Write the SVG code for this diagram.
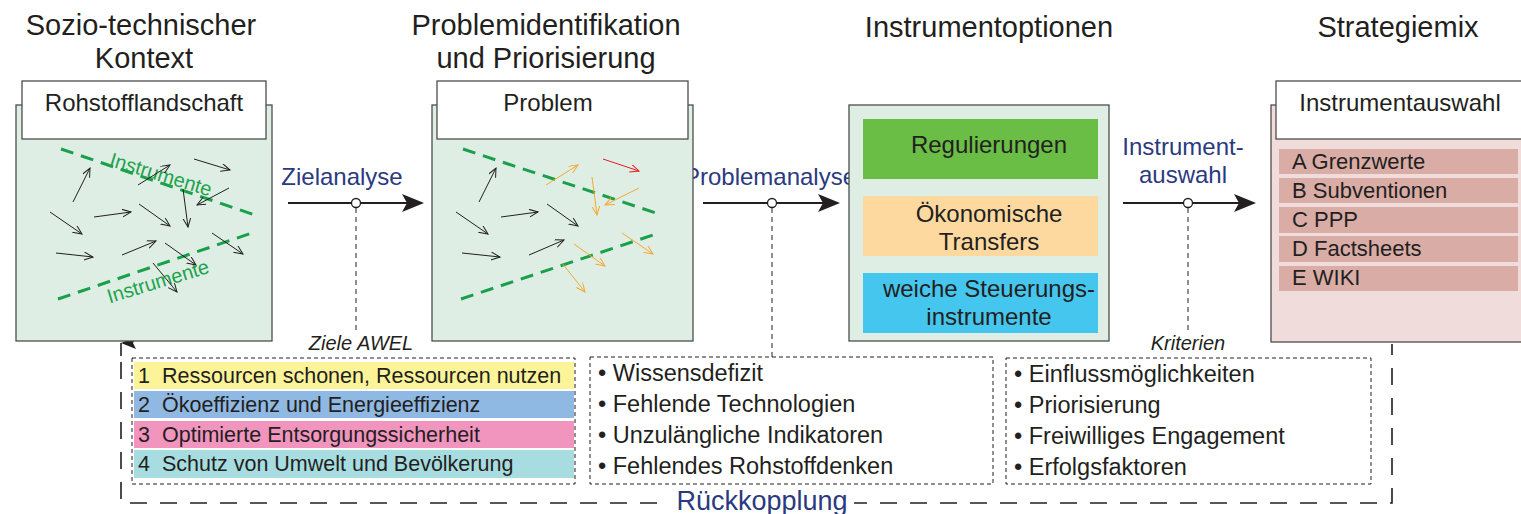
<svg xmlns="http://www.w3.org/2000/svg" width="1521" height="514" viewBox="0 0 1521 514">
<defs>
<style>
text{font-family:"Liberation Sans",Arial,sans-serif;fill:#231f20}
.title{font-size:29px;text-anchor:middle}
.lbl{font-size:24px;text-anchor:middle}
.nav{fill:#2b3a80;font-size:24px;text-anchor:middle}
.it{font-style:italic;font-size:20px;text-anchor:middle}
.li{font-size:21.5px}
.bl{font-size:23.5px}
.si{font-size:22px}
.panel{fill:#deeee4;stroke:#4d4d4d;stroke-width:1.3}
.wbox{fill:#fff;stroke:#4d4d4d;stroke-width:1.3}
.gd{stroke:#1a9f4a;stroke-width:3;stroke-dasharray:13 8;fill:none}
.ka{stroke:#231f20;stroke-width:1;fill:none;marker-end:url(#mk)}
.oa{stroke:#f5a833;stroke-width:1;fill:none;marker-end:url(#mo)}
.ra{stroke:#ec1c24;stroke-width:1;fill:none;marker-end:url(#mr)}
.main{stroke:#231f20;stroke-width:2.2;fill:none;marker-end:url(#big)}
.vd{stroke:#231f20;stroke-width:1;stroke-dasharray:5 4;fill:none}
.ld{stroke:#231f20;stroke-width:1;stroke-dasharray:4 3;fill:none}
.fb{stroke:#231f20;stroke-width:1.6;stroke-dasharray:17 13;fill:none}
.ins{fill:#1fa34e;font-size:20px;text-anchor:middle}
</style>
<marker id="mk" markerWidth="12" markerHeight="10" refX="9" refY="4" orient="auto" markerUnits="userSpaceOnUse"><path d="M0,0 L9,4 L0,8" fill="none" stroke="#231f20" stroke-width="1"/></marker>
<marker id="mo" markerWidth="12" markerHeight="10" refX="9" refY="4" orient="auto" markerUnits="userSpaceOnUse"><path d="M0,0 L9,4 L0,8" fill="none" stroke="#f5a833" stroke-width="1"/></marker>
<marker id="mr" markerWidth="12" markerHeight="10" refX="9" refY="4" orient="auto" markerUnits="userSpaceOnUse"><path d="M0,0 L9,4 L0,8" fill="none" stroke="#ec1c24" stroke-width="1"/></marker>
<marker id="big" markerWidth="26" markerHeight="20" refX="20" refY="9" orient="auto" markerUnits="userSpaceOnUse"><path d="M0,0 L22,9 L0,18 L5,9 Z" fill="#231f20"/></marker>
<marker id="up" markerWidth="14" markerHeight="18" refX="6" refY="0" orient="auto-start-reverse" markerUnits="userSpaceOnUse"><path d="M6,0 L12,15 L6,12 L0,15 Z" fill="#231f20"/></marker>
</defs>

<rect width="1521" height="514" fill="#fff"/>

<g id="titles">
<text class="title" x="141" y="35">Sozio-technischer</text>
<text class="title" x="144" y="68">Kontext</text>
<text class="title" x="546" y="35">Problemidentifikation</text>
<text class="title" x="546" y="68">und Priorisierung</text>
<text class="title" x="989" y="37">Instrumentoptionen</text>
<text class="title" x="1398" y="37">Strategiemix</text>
</g>

<g id="connectors">
<path class="fb" d="M121,362 V503 H1392 V344"/>
<path d="M121,356 V343" stroke="#231f20" stroke-width="1.6" marker-end="url(#up)"/>
<rect x="670" y="486" width="184" height="28" fill="#fff"/>
<text x="762" y="510" style="fill:#2b3a80;font-size:27px;text-anchor:middle">Rückkopplung</text>

<line class="main" x1="288" y1="203" x2="422" y2="203"/>
<line class="vd" x1="356" y1="208" x2="356" y2="334"/>
<circle cx="356" cy="203" r="4.5" fill="#fff" stroke="#231f20" stroke-width="1.3"/>
<text class="nav" x="342" y="185">Zielanalyse</text>
<text class="it" x="361" y="350">Ziele AWEL</text>

<line class="main" x1="703" y1="203" x2="838" y2="203"/>
<line class="vd" x1="772" y1="208" x2="772" y2="357"/>
<circle cx="772" cy="203" r="4.5" fill="#fff" stroke="#231f20" stroke-width="1.3"/>
<rect x="683" y="162" width="174" height="30" fill="#fff"/>
<text class="nav" x="770" y="185">Problemanalyse</text>

<line class="main" x1="1123" y1="203" x2="1254" y2="203"/>
<line class="vd" x1="1188" y1="208" x2="1188" y2="334"/>
<circle cx="1188" cy="203" r="4.5" fill="#fff" stroke="#231f20" stroke-width="1.3"/>
<text class="nav" x="1183" y="155">Instrument-</text>
<text class="nav" x="1183" y="183">auswahl</text>
<text class="it" x="1188" y="350">Kriterien</text>
</g>

<g id="panel1">
<rect class="panel" x="16" y="105" width="256" height="236"/>
<rect class="wbox" x="22" y="81" width="244" height="58"/>
<text class="lbl" x="144" y="111">Rohstofflandschaft</text>
<line class="gd" x1="61" y1="149" x2="255" y2="215"/>
<line class="gd" x1="58" y1="299" x2="252" y2="233"/>
<text class="ins" transform="translate(159,181) rotate(17)">Instrumente</text>
<text class="ins" transform="translate(160,288) rotate(-17)">Instrumente</text>
<line class="ka" x1="73" y1="202" x2="90" y2="168"/>
<line class="ka" x1="50" y1="212" x2="82" y2="234"/>
<line class="ka" x1="94" y1="217" x2="131" y2="212"/>
<line class="ka" x1="56" y1="253" x2="93" y2="257"/>
<line class="ka" x1="122" y1="255" x2="156" y2="241"/>
<line class="ka" x1="138" y1="185" x2="170" y2="165"/>
<line class="ka" x1="194" y1="159" x2="230" y2="170"/>
<line class="ka" x1="229" y1="188" x2="197" y2="205"/>
<line class="ka" x1="183" y1="189" x2="188" y2="227"/>
<line class="ka" x1="139" y1="204" x2="170" y2="226"/>
<line class="ka" x1="212" y1="233" x2="243" y2="254"/>
<line class="ka" x1="165" y1="243" x2="196" y2="265"/>
<line class="ka" x1="153" y1="263" x2="177" y2="292"/>
</g>

<g id="panel2">
<rect class="panel" x="432" y="105" width="261" height="236"/>
<rect class="wbox" x="437" y="81" width="251" height="58"/>
<text class="lbl" x="548" y="111">Problem</text>
<line class="gd" x1="463" y1="149" x2="662" y2="215"/>
<line class="gd" x1="461" y1="299" x2="659" y2="233"/>
<line class="ka" x1="479" y1="202" x2="496" y2="168"/>
<line class="ka" x1="456" y1="212" x2="488" y2="234"/>
<line class="ka" x1="501" y1="217" x2="538" y2="212"/>
<line class="ka" x1="462" y1="253" x2="500" y2="257"/>
<line class="ka" x1="529" y1="255" x2="564" y2="240"/>
<line class="ka" x1="547" y1="204" x2="578" y2="226"/>
<line class="ra" x1="603" y1="159" x2="639" y2="171"/>
<line class="oa" x1="546" y1="185" x2="578" y2="165"/>
<line class="oa" x1="592" y1="177" x2="597" y2="215"/>
<line class="oa" x1="639" y1="188" x2="605" y2="205"/>
<line class="oa" x1="622" y1="233" x2="653" y2="254"/>
<line class="oa" x1="574" y1="244" x2="605" y2="266"/>
<line class="oa" x1="562" y1="263" x2="585" y2="292"/>
</g>

<g id="panel3">
<rect class="panel" x="849" y="105" width="260" height="236"/>
<rect x="863" y="119" width="235" height="60" fill="#6abd45"/>
<rect x="863" y="196" width="235" height="60" fill="#fdd9a0"/>
<rect x="863" y="273" width="235" height="60" fill="#45c6ee"/>
<text class="lbl" x="989" y="153">Regulierungen</text>
<text class="lbl" x="989" y="222">Ökonomische</text>
<text class="lbl" x="989" y="250">Transfers</text>
<text class="lbl" x="989" y="297">weiche Steuerungs-</text>
<text class="lbl" x="989" y="325">instrumente</text>
</g>

<g id="panel4">
<rect x="1271" y="105" width="260" height="237" fill="#efdcdb" stroke="#4d4d4d" stroke-width="1.3"/>
<rect class="wbox" x="1276" y="81" width="260" height="58"/>
<text class="lbl" x="1400" y="111">Instrumentauswahl</text>
<rect x="1279" y="149" width="239" height="25" fill="#d9aca6"/>
<rect x="1279" y="178" width="239" height="25" fill="#d9aca6"/>
<rect x="1279" y="207" width="239" height="26" fill="#d9aca6"/>
<rect x="1279" y="236" width="239" height="26" fill="#d9aca6"/>
<rect x="1279" y="266" width="239" height="25" fill="#d9aca6"/>
<text class="si" x="1292" y="169">A Grenzwerte</text>
<text class="si" x="1292" y="198">B Subventionen</text>
<text class="si" x="1292" y="227">C PPP</text>
<text class="si" x="1292" y="256">D Factsheets</text>
<text class="si" x="1292" y="285">E WIKI</text>
</g>

<g id="ziele">
<rect class="ld" x="132" y="358" width="443" height="126"/>
<rect x="134" y="362" width="440" height="27" fill="#fdf49a"/>
<rect x="134" y="391" width="440" height="27" fill="#8fb9e3"/>
<rect x="134" y="421" width="440" height="27" fill="#f195bf"/>
<rect x="134" y="450" width="440" height="28" fill="#a7dde0"/>
<text class="li" x="138" y="383">1</text><text class="li" x="162" y="383">Ressourcen schonen, Ressourcen nutzen</text>
<text class="li" x="138" y="412">2</text><text class="li" x="162" y="412">Ökoeffizienz und Energieeffizienz</text>
<text class="li" x="138" y="442">3</text><text class="li" x="162" y="442">Optimierte Entsorgungssicherheit</text>
<text class="li" x="138" y="471">4</text><text class="li" x="162" y="471">Schutz von Umwelt und Bevölkerung</text>
</g>

<g id="probleme">
<rect class="ld" x="590" y="357" width="403" height="127"/>
<text class="bl" x="598" y="381">• Wissensdefizit</text>
<text class="bl" x="598" y="412">• Fehlende Technologien</text>
<text class="bl" x="598" y="443">• Unzulängliche Indikatoren</text>
<text class="bl" x="598" y="474">• Fehlendes Rohstoffdenken</text>
</g>

<g id="kriterien">
<rect class="ld" x="1006" y="358" width="365" height="126"/>
<text class="bl" x="1014" y="382">• Einflussmöglichkeiten</text>
<text class="bl" x="1014" y="413">• Priorisierung</text>
<text class="bl" x="1014" y="444">• Freiwilliges Engagement</text>
<text class="bl" x="1014" y="475">• Erfolgsfaktoren</text>
</g>
</svg>
